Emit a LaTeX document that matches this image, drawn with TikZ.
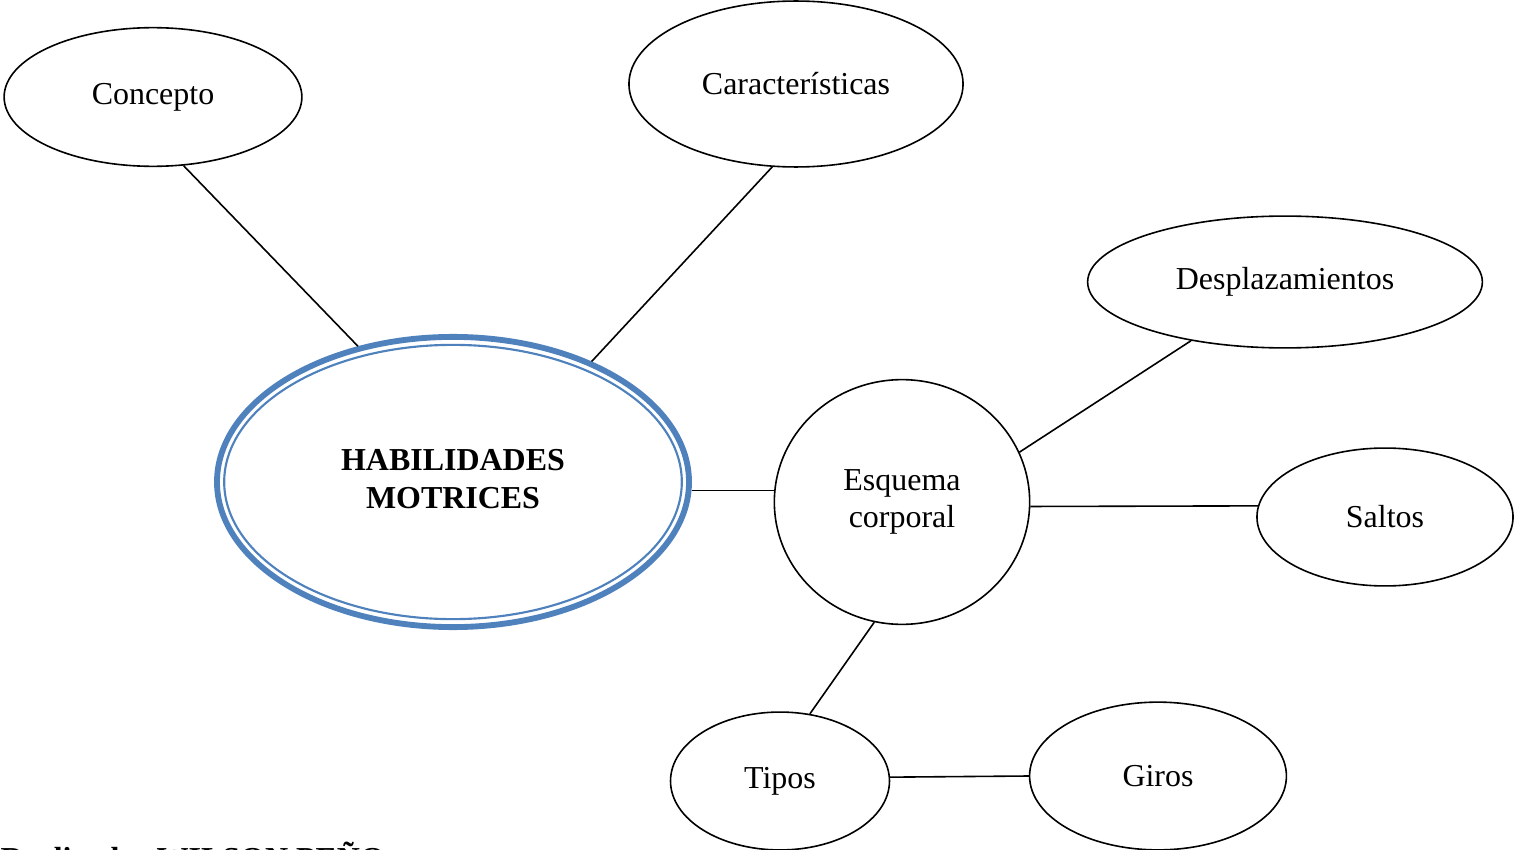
\documentclass[tikz,border=0pt]{standalone}
\usepackage{fontspec}
\setmainfont{Liberation Serif}
\usetikzlibrary{shapes.geometric}
\usepackage{xcolor}
\definecolor{habblue}{HTML}{4F81BD}

\begin{document}
\begin{tikzpicture}[x=0.0132cm,y=-0.0132cm]
\tikzstyle{bubble} = [ellipse, draw=black, line width=0.6pt, inner sep=0pt,
align=center, font=\fontsize{12}{14}\selectfont]
\tikzstyle{main} = [ellipse, draw=habblue, line width=2.2pt, inner sep=0pt,
align=center, font=\fontsize{12}{14}\selectfont\bfseries,
minimum width=6.23cm, minimum height=3.83cm]
\tikzstyle{ring} = [draw=habblue, line width=0.8pt]
\tikzstyle{line} = [draw, line width=0.6pt]
\clip (0,0) rectangle (1515,850);
% centre
\node [main] (hab) at (453,482) {\raisebox{2.5pt}{\begin{tabular}{@{}c@{}}HABILIDADES\\MOTRICES\end{tabular}}};
\draw [ring] (hab.center) ellipse [x radius=3.02cm, y radius=1.81cm];
% top
\node [bubble, minimum width=3.93cm, minimum height=1.83cm] (concepto) at (153,97) {Concepto};
\node [bubble, minimum width=4.41cm, minimum height=2.19cm] (caract) at (796,84) {Características};
% right
\node [bubble, minimum width=3.37cm, minimum height=3.23cm] (esquema) at (902,502) {Esquema\\corporal};
\node [bubble, minimum width=5.21cm, minimum height=1.74cm] (desplaz) at (1285,282) {Desplazamientos};
\node [bubble, minimum width=3.38cm, minimum height=1.82cm] (saltos) at (1385,517) {Saltos};
% bottom
\node [bubble, minimum width=2.89cm, minimum height=1.82cm] (tipos) at (780,781) {Tipos};
\node [bubble, minimum width=3.39cm, minimum height=1.95cm] (giros) at (1158,776) {Giros};
\node [anchor=base west, inner sep=0pt, font=\fontsize{12}{14}\selectfont\bfseries] (autor) at (0,869) {Realizado: WILSON PEÑO};

\tikzstyle{every path}=[line]
\path (concepto.-66) -- (hab.125);
\path (caract.-106) -- (hab.41);
\path (hab.-2) -- (hab.-2 -| esquema.west);
\path (esquema.23) -- (desplaz.-148);
\path (esquema.-2) -- (saltos.175);
\path (esquema.-103) -- (tipos.66);
\path (tipos.2) -- (giros.180);

\end{tikzpicture}
\end{document}
